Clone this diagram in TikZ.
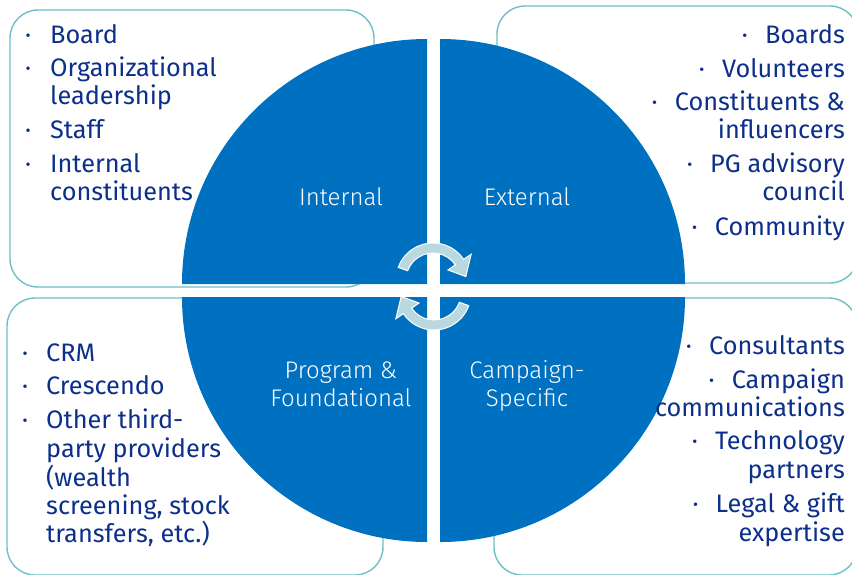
\documentclass[tikz,border=0pt]{standalone}
\usepackage{fontspec}
\setmainfont{Fira Sans}
\newfontfamily\lightfont{Fira Sans Light}
\usetikzlibrary{calc}

\definecolor{wheelblue}{HTML}{0070C0}
\definecolor{textblue}{HTML}{0C2F8A}
\definecolor{frameteal}{HTML}{6FBFC8}
\definecolor{cyclearrow}{HTML}{B9D8DF}

\tikzset{
  frame/.style={draw=frameteal, line width=1.4pt, rounded corners=28pt},
  quarter/.style={fill=wheelblue},
  listtext/.style={font=\fontsize{25.3}{28}\selectfont, text=textblue, inner sep=0pt},
  dotmark/.style={font=\fontsize{25}{28}\selectfont, text=textblue, inner sep=0pt, anchor=base},
  wheellabel/.style={font=\lightfont\fontsize{24}{28}\selectfont, text=white, inner sep=0pt, anchor=base},
  cyclearrowstyle/.style={fill=cyclearrow, draw=white, line width=1pt, line join=miter}
}

\begin{document}
\begin{tikzpicture}[x=1pt, y=-1pt]
  \useasboundingbox (0,0) rectangle (852,574);

  % four framing boxes
  \draw[frame] (10,10) rectangle (374,287);
  \draw[frame] (497,6) rectangle (858,283);
  \draw[frame] (7,298) rectangle (383,575);
  \draw[frame] (494,298) rectangle (857,575);

  % the wheel, split into four quarters
  \coordinate (ctl) at (427,284);
  \coordinate (ctr) at (440,284);
  \coordinate (cbl) at (427,297);
  \coordinate (cbr) at (440,297);
  \fill[quarter] (ctl) -- ++(-245,0) arc[start angle=180, end angle=270, radius=245] -- cycle;
  \fill[quarter] (ctr) -- ++(0,-245) arc[start angle=270, end angle=360, radius=245] -- cycle;
  \fill[quarter] (cbl) -- ++(-245,0) arc[start angle=180, end angle=90, radius=245] -- cycle;
  \fill[quarter] (cbr) -- ++(245,0) arc[start angle=0, end angle=90, radius=245] -- cycle;

  % circular arrows in the middle
  \coordinate (cup) at (433,280);
  \coordinate (cdn) at (434,293);
  \path[cyclearrowstyle]
    ([shift={(200:37)}]cup) arc[start angle=200, end angle=326, radius=37]
    -- ([shift={(326:46)}]cup) -- ([shift={(354:33)}]cup) -- ([shift={(326:18)}]cup)
    -- ([shift={(326:27)}]cup) arc[start angle=326, end angle=200, radius=27] -- cycle;
  \path[cyclearrowstyle]
    ([shift={(20:37)}]cdn) arc[start angle=20, end angle=146, radius=37]
    -- ([shift={(146:46)}]cdn) -- ([shift={(174:33)}]cdn) -- ([shift={(146:18)}]cdn)
    -- ([shift={(146:27)}]cdn) arc[start angle=146, end angle=20, radius=27] -- cycle;

  % quarter labels
  \node[wheellabel] (lint) at (341,205) {Internal};
  \node[wheellabel] (lext) at (527,205) {External};
  \node[wheellabel] (lprg1) at (341,378) {Program \&};
  \node[wheellabel] (lprg2) at (341,406) {Foundational};
  \node[wheellabel] (lcmp1) at (527,378) {Campaign-};
  \node[wheellabel] (lcmp2) at (527,406) {Specific};

  % internal stakeholders
  \foreach \yy/\txt/\bb [count=\i] in {43/Board/1, 76/Organizational/1, 104/leadership/0,
      138/Staff/1, 172/Internal/1, 200/constituents/0} {
    \node[listtext, anchor=base west] (tl\i) at (50,\yy) {\txt};
    \ifnum\bb=1 \node[dotmark] (tlb\i) at ([xshift=-22pt]tl\i.base west) {·}; \fi
  }

  % external stakeholders
  \foreach \yy/\txt/\bb [count=\i] in {43/Boards/1, 77/Volunteers/1, 110/{Constituents \&}/1,
      138/influencers/0, 172/PG advisory/1, 200/council/0, 235/Community/1} {
    \node[listtext, anchor=base east] (tr\i) at (845,\yy) {\txt};
    \ifnum\bb=1 \node[dotmark] (trb\i) at ([xshift=-20pt]tr\i.base west) {·}; \fi
  }

  % programs and foundational tools
  \foreach \yy/\txt/\bb [count=\i] in {361/CRM/1, 394/Crescendo/1, 428/Other third-/1,
      457/party providers/0, 486/(wealth/0, 514/{screening, stock}/0, 542/{transfers, etc.)}/0} {
    \node[listtext, anchor=base west] (bl\i) at (46,\yy) {\txt};
    \ifnum\bb=1 \node[dotmark] (blb\i) at ([xshift=-21pt]bl\i.base west) {·}; \fi
  }

  % campaign-specific partners
  \foreach \yy/\txt/\bb [count=\i] in {354/Consultants/1, 388/Campaign/1, 416/communications/0,
      449/Technology/1, 478/partners/0, 512/{Legal \& gift}/1, 541/expertise/0} {
    \node[listtext, anchor=base east] (br\i) at (845,\yy) {\txt};
    \ifnum\bb=1 \node[dotmark] (brb\i) at ([xshift=-20pt]br\i.base west) {·}; \fi
  }
\end{tikzpicture}
\end{document}
